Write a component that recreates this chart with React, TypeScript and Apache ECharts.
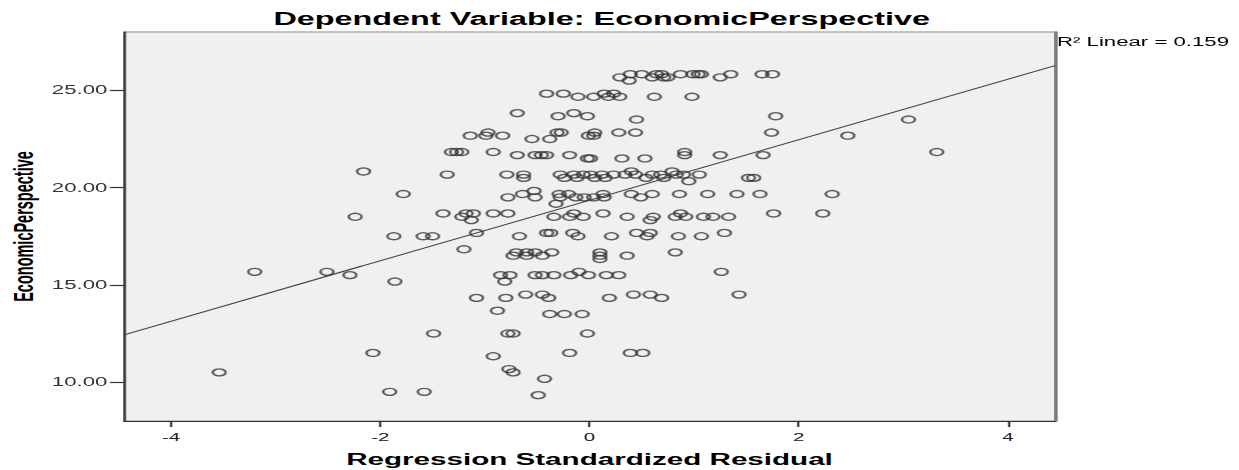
import { useEffect, useRef } from 'react';
import * as echarts from 'echarts';

// Horizontal stretch of the reference picture (SPSS output widened)
const STRETCH = 1.85;
const PAGE_W = 1239;
const PAGE_H = 470;

const titleText = 'Dependent Variable: EconomicPerspective';
const xAxisTitle = 'Regression Standardized Residual';
const yAxisTitle = 'EconomicPerspective';
const r2Text = 'R\u00B2 Linear = 0.159';

const xTicks = [-4, -2, 0, 2, 4];
const yTicks = [10, 15, 20, 25];
const xRange = [-4.45, 4.45];
const yRange = [8, 28];

// fit line: EconomicPerspective = intercept + slope * residual
const fitIntercept = 19.35;
const fitSlope = 1.556;

// EconomicPerspective levels and the standardized residuals observed at each level
const levels = [
  25.83, 25.67, 25.5, 24.83, 24.67, 23.83, 23.67, 23.5, 22.83, 22.67, 22.5,
  21.83, 21.67, 21.5, 20.83, 20.67, 20.5, 20.33, 19.83, 19.67, 19.5, 19.17,
  18.67, 18.5, 18.33, 17.67, 17.5, 16.83, 16.67, 16.5, 16.33, 15.67, 15.5,
  15.17, 14.5, 14.33, 13.67, 13.5, 12.5, 11.5, 11.33, 10.67, 10.5, 10.17, 9.5, 9.33,
];
const residualsAtLevel = [
  [0.39, 0.5, 0.64, 0.69, 0.87, 0.99, 1.04, 1.07, 1.35, 1.65, 1.75],
  [0.29, 0.6, 0.71, 0.75, 1.25],
  [0.38],
  [-0.41, -0.25, 0.14, 0.23],
  [-0.11, 0.04, 0.18, 0.29, 0.62, 0.98],
  [-0.69, -0.15],
  [-0.3, -0.02, 1.78],
  [0.45, 3.05],
  [-0.97, -0.31, -0.27, 0.05, 0.28, 0.44, 1.74],
  [-1.14, -0.99, -0.83, -0.01, 0.04, 2.47],
  [-0.55, -0.38],
  [-1.32, -1.27, -1.22, -0.92, 0.91, 3.32],
  [-0.69, -0.52, -0.46, -0.41, -0.19, 0.91, 1.25, 1.66],
  [-0.02, 0.01, 0.31, 0.53],
  [-2.16, 0.4, 0.79],
  [-1.36, -0.79, -0.63, -0.28, -0.15, -0.06, 0.01, 0.12, 0.23, 0.34, 0.44, 0.6, 0.68, 0.83, 0.9, 1.05],
  [-0.63, -0.24, -0.12, 0.05, 0.15, 0.54, 0.71, 1.52, 1.57],
  [0.95],
  [-0.53],
  [-1.78, -0.64, -0.29, -0.2, 0.13, 0.4, 0.6, 0.86, 1.13, 1.41, 1.63, 2.32],
  [-0.78, -0.52, -0.28, -0.13, -0.05, 0.04, 0.14, 0.49],
  [-0.32],
  [-1.4, -1.18, -1.11, -0.92, -0.78, -0.15, 0.13, 0.87, 1.76, 2.23],
  [-2.24, -1.22, -0.34, -0.19, -0.06, 0.36, 0.61, 0.82, 0.92, 1.09, 1.18, 1.33],
  [-1.13, 0.58],
  [-1.08, -0.41, -0.37, -0.16, 0.45, 0.58, 1.29],
  [-1.87, -1.59, -1.5, -0.67, -0.11, 0.21, 0.55, 0.85, 1.07],
  [-1.2],
  [-0.7, -0.6, -0.52, -0.36, 0.1, 0.82],
  [-0.73, -0.6, -0.45, 0.1, 0.36],
  [0.1],
  [-3.2, -2.51, -0.1, 1.26],
  [-2.29, -0.85, -0.76, -0.52, -0.45, -0.34, -0.18, -0.01, 0.16, 0.28],
  [-1.86, -0.81],
  [-0.61, -0.45, 0.42, 0.58, 1.43],
  [-1.08, -0.8, -0.39, 0.19, 0.69],
  [-0.88],
  [-0.38, -0.24, -0.07],
  [-1.49, -0.78, -0.73, -0.02],
  [-2.07, -0.19, 0.39, 0.51],
  [-0.92],
  [-0.77],
  [-3.54, -0.73],
  [-0.43],
  [-1.91, -1.58],
  [-0.49],
];

const FONT = '"Liberation Sans", Arial, Helvetica, sans-serif';

export default function App() {
  const ref = useRef<HTMLDivElement>(null);

  useEffect(() => {
    if (!ref.current) return;
    const w = PAGE_W / STRETCH;
    const chart = echarts.init(ref.current, null, { renderer: 'svg', width: w, height: PAGE_H });

    const points: number[][] = [];
    levels.forEach((lv, i) => {
      residualsAtLevel[i].forEach((r) => points.push([r, lv]));
    });
    const fitLine = [
      [xRange[0], fitIntercept + fitSlope * xRange[0]],
      [xRange[1], fitIntercept + fitSlope * xRange[1]],
    ];

    chart.setOption({
      animation: false,
      backgroundColor: '#ffffff',
      grid: {
        left: 124 / STRETCH,
        top: 32,
        width: 931 / STRETCH,
        height: 389,
        show: true,
        containLabel: false,
        outerBoundsMode: 'none',
        backgroundColor: '#f0f0f0',
        borderColor: '#8a8a8a',
        borderWidth: 1,
      },
      xAxis: {
        type: 'value',
        min: xRange[0],
        max: xRange[1],
        splitLine: { show: false },
        axisLine: { show: true, onZero: false, lineStyle: { color: '#333', width: 1.2 } },
        axisTick: { show: true, length: 6, customValues: xTicks, lineStyle: { color: '#333', width: 1.2 } },
        axisLabel: {
          customValues: xTicks,
          color: '#222',
          fontSize: 11,
          fontFamily: FONT,
          margin: 10,
        },
        name: xAxisTitle,
        nameLocation: 'middle',
        nameGap: 30,
        nameMoveOverlap: false,
        nameTextStyle: { fontFamily: FONT, fontWeight: 'bold', fontSize: 16, color: '#000' },
      },
      yAxis: [
        {
          type: 'value',
          min: yRange[0],
          max: yRange[1],
          splitLine: { show: false },
          axisLine: { show: true, onZero: false, lineStyle: { color: '#333', width: 1.2 } },
          axisTick: { show: true, length: 7.6, customValues: yTicks, lineStyle: { color: '#333', width: 1.2 } },
          axisLabel: {
            customValues: yTicks,
            formatter: (v: number) => v.toFixed(2),
            color: '#333',
            fontSize: 12,
            fontFamily: FONT,
            margin: 9,
          },
          name: yAxisTitle,
          nameLocation: 'middle',
          nameRotate: 90,
          nameGap: 46.5,
          nameMoveOverlap: false,
          nameTextStyle: { fontFamily: FONT, fontWeight: 'bold', fontSize: 14.5, color: '#000' },
        },
        {
          type: 'value',
          position: 'right',
          min: yRange[0],
          max: yRange[1],
          splitLine: { show: false },
          axisLine: { show: true, onZero: false, lineStyle: { color: '#7a7a7a', width: 1.6 } },
          axisTick: { show: false },
          axisLabel: { show: false },
        },
      ],
      graphic: [
        {
          type: 'text',
          x: 601.7 / STRETCH,
          y: 19,
          style: {
            text: titleText,
            fontFamily: FONT,
            fontWeight: 'bold',
            fontSize: 17.5,
            fill: '#000',
            align: 'center',
            verticalAlign: 'middle',
          },
        },
        {
          type: 'text',
          x: 1057 / STRETCH,
          y: 42,
          style: {
            text: r2Text,
            fontFamily: FONT,
            fontSize: 12,
            fill: '#000',
            align: 'left',
            verticalAlign: 'middle',
          },
        },
      ],
      series: [
        {
          type: 'scatter',
          data: points,
          symbol: 'circle',
          symbolSize: 7,
          itemStyle: { color: 'transparent', borderColor: '#333', borderWidth: 1.3 },
          silent: true,
          z: 3,
        },
        {
          type: 'line',
          data: fitLine,
          showSymbol: false,
          symbol: 'none',
          lineStyle: { color: '#333', width: 1 },
          silent: true,
          z: 4,
        },
      ],
    });

    return () => chart.dispose();
  }, []);

  return (
    <div
      style={{
        position: 'fixed',
        left: 0,
        top: 0,
        width: PAGE_W,
        height: PAGE_H,
        overflow: 'hidden',
        background: '#fff',
      }}
    >
      <div
        ref={ref}
        style={{
          width: PAGE_W / STRETCH,
          height: PAGE_H,
          transform: `scaleX(${STRETCH})`,
          transformOrigin: '0 0',
        }}
      />
    </div>
  );
}
